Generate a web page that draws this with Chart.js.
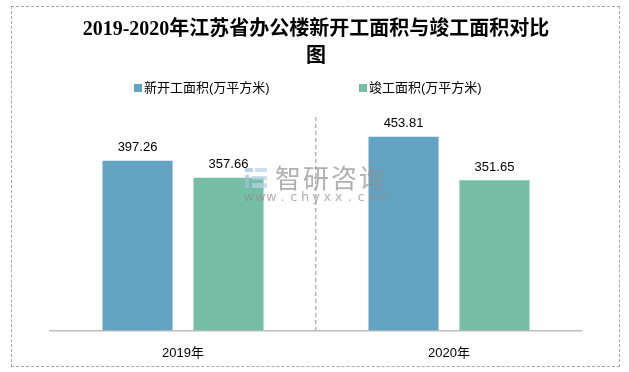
<!DOCTYPE html>
<html><head><meta charset="utf-8">
<script src="https://cdn.jsdelivr.net/npm/chart.js@4"></script>
<style>
html,body{margin:0;padding:0;background:#fff}
#wrap{position:relative;width:629px;height:372px}
#frame{position:absolute;left:11px;top:6px;width:607px;height:359px;border:1px dashed #a6a6a6;pointer-events:none}
</style></head>
<body><div id="wrap"><canvas id="c" width="629" height="372"></canvas><div id="frame"></div></div>
<script>
const categories = ['2019年', '2020年'];
const seriesNames = ['新开工面积(万平方米)', '竣工面积(万平方米)'];
const newStartArea = [397.26, 453.81];
const completedArea = [357.66, 351.65];
const titleLines = ['2019-2020年江苏省办公楼新开工面积与竣工面积对比', '图'];
const watermarkName = '智研咨询';
const watermarkUrl = 'www.chyxx.com';

const colors = ['#62a3c2', '#76bea5'];
const sansCJK = "'Liberation Sans','Noto Sans CJK SC',sans-serif";

const legendPlugin = {
  id: 'customLegend',
  afterDraw(chart) {
    const ctx = chart.ctx;
    const xs = [134, 359];
    ctx.save();
    ctx.font = "13px " + sansCJK;
    ctx.textBaseline = 'middle';
    ctx.textAlign = 'left';
    chart.data.datasets.forEach((ds, i) => {
      ctx.fillStyle = ds.backgroundColor;
      ctx.fillRect(xs[i], 84, 8, 8);
      ctx.fillStyle = '#000';
      ctx.fillText(ds.label, xs[i] + 10, 88.5);
    });
    ctx.restore();
  }
};

const watermarkPlugin = {
  id: 'watermark',
  afterDatasetsDraw(chart) {
    const ctx = chart.ctx;
    ctx.save();
    ctx.globalAlpha = 0.7;
    ctx.fillStyle = '#9fc3dc';
    ctx.fillRect(245, 168, 8, 4);
    ctx.fillRect(245, 175, 4, 13);
    ctx.fillStyle = '#b9d3e6';
    ctx.fillRect(255, 168, 12, 4);
    ctx.fillRect(252, 176, 15, 4);
    ctx.fillRect(252, 183, 15, 5);
    ctx.fillStyle = '#8f8f8f';
    ctx.font = "26px 'Noto Sans CJK SC',sans-serif";
    ctx.textBaseline = 'middle';
    ctx.textAlign = 'left';
    let x = 275;
    for (const ch of watermarkName) { ctx.fillText(ch, x, 178); x += 28; }
    ctx.font = "13px 'DejaVu Sans',sans-serif";
    ctx.textAlign = 'center';
    let ux = 249;
    for (const ch of watermarkUrl) { ctx.fillText(ch, ux, 198); ux += 11.2; }
    ctx.restore();
  }
};

const valueLabelPlugin = {
  id: 'valueLabels',
  afterDatasetsDraw(chart) {
    const ctx = chart.ctx;
    ctx.save();
    ctx.font = "13px 'Liberation Sans',sans-serif";
    ctx.fillStyle = '#000';
    ctx.textAlign = 'center';
    ctx.textBaseline = 'middle';
    chart.data.datasets.forEach((ds, di) => {
      chart.getDatasetMeta(di).data.forEach((el, i) => {
        ctx.fillText(ds.data[i].toFixed(2), el.x, el.y - 13);
      });
    });
    ctx.restore();
  }
};

new Chart(document.getElementById('c'), {
  type: 'bar',
  data: {
    labels: categories,
    datasets: [
      { label: seriesNames[0], data: newStartArea, backgroundColor: colors[0] },
      { label: seriesNames[1], data: completedArea, backgroundColor: colors[1] }
    ]
  },
  options: {
    responsive: false,
    animation: false,
    events: [],
    categoryPercentage: 0.684,
    barPercentage: 0.77,
    layout: { padding: { left: 50, right: 47, top: 0, bottom: -4 } },
    plugins: {
      legend: { display: false },
      tooltip: { enabled: false },
      title: {
        display: true,
        text: titleLines,
        color: '#000',
        font: { family: "'Liberation Serif','Noto Sans CJK SC',serif", size: 20, weight: 'bold', lineHeight: 1.35 },
        padding: { top: 16.5, bottom: 46.5 }
      }
    },
    scales: {
      x: {
        grid: {
          offset: true,
          drawTicks: false,
          color: (c) => c.index === 1 ? '#b5b5b5' : 'rgba(0,0,0,0)',
          lineWidth: 1.5
        },
        border: { display: true, color: '#bcbcbc', width: 1.5, dash: [4, 3] },
        ticks: { color: '#000', padding: 15, font: { family: sansCJK, size: 13 } }
      },
      y: {
        display: false,
        min: 0,
        max: 500
      }
    }
  },
  plugins: [legendPlugin, watermarkPlugin, valueLabelPlugin]
});
</script>
</body></html>
